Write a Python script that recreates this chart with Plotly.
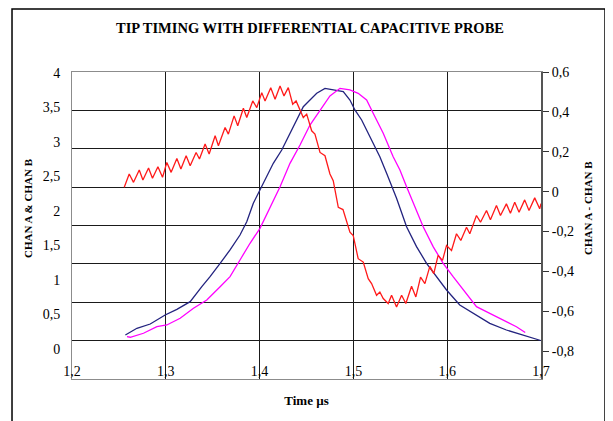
import plotly.graph_objects as go

# ---- data ----
time_a = [1.2569, 1.2692, 1.2834, 1.2993, 1.3118, 1.3260, 1.3384, 1.3472, 1.3579, 1.3685,
          1.3791, 1.3863, 1.3933, 1.4040, 1.4146, 1.4236, 1.4324, 1.4396, 1.4466, 1.4537,
          1.4609, 1.4697, 1.4785, 1.4892, 1.4963, 1.5016, 1.5088, 1.5176, 1.5282, 1.5354,
          1.5460, 1.5567, 1.5673, 1.5780, 1.5886, 1.5993, 1.6134, 1.6276, 1.6454, 1.6631,
          1.6808, 1.6997]
chan_a = [0.203, 0.300, 0.362, 0.493, 0.575, 0.686, 0.903, 1.048, 1.242, 1.435,
          1.652, 1.845, 2.112, 2.401, 2.691, 2.884, 3.126, 3.319, 3.512, 3.609,
          3.706, 3.778, 3.754, 3.729, 3.609, 3.464, 3.319, 3.077, 2.787, 2.546,
          2.184, 1.772, 1.483, 1.242, 1.048, 0.855, 0.638, 0.517, 0.372, 0.275,
          0.203, 0.123]

time_b = [1.2586, 1.2621, 1.2762, 1.2905, 1.3011, 1.3153, 1.3295, 1.3437, 1.3579, 1.3685,
          1.3791, 1.3898, 1.4004, 1.4111, 1.4218, 1.4324, 1.4431, 1.4537, 1.4644, 1.4750,
          1.4857, 1.4963, 1.5051, 1.5141, 1.5211, 1.5318, 1.5424, 1.5496, 1.5567, 1.5637,
          1.5744, 1.5850, 1.5957, 1.6063, 1.6170, 1.6312, 1.6454, 1.6595, 1.6738, 1.6832]
chan_b = [0.178, 0.170, 0.228, 0.323, 0.348, 0.445, 0.590, 0.710, 0.903, 1.048,
          1.290, 1.532, 1.749, 2.062, 2.352, 2.691, 2.957, 3.246, 3.464, 3.667,
          3.778, 3.754, 3.706, 3.609, 3.416, 3.126, 2.787, 2.594, 2.352, 2.112,
          1.772, 1.483, 1.242, 1.048, 0.855, 0.613, 0.517, 0.420, 0.323, 0.239]

time_d = [1.2557, 1.2610, 1.2656, 1.2717, 1.2756, 1.2816, 1.2858, 1.2916, 1.2965, 1.3011,
          1.3057, 1.3118, 1.3161, 1.3217, 1.3260, 1.3323, 1.3359, 1.3419, 1.3462, 1.3526,
          1.3561, 1.3632, 1.3667, 1.3728, 1.3767, 1.3827, 1.3863, 1.3927, 1.3970, 1.4023,
          1.4058, 1.4119, 1.4165, 1.4218, 1.4260, 1.4306, 1.4353, 1.4389, 1.4466, 1.4502,
          1.4555, 1.4590, 1.4644, 1.4697, 1.4750, 1.4785, 1.4839, 1.4889, 1.4963, 1.4998,
          1.5051, 1.5105, 1.5158, 1.5194, 1.5247, 1.5282, 1.5318, 1.5371, 1.5407, 1.5460,
          1.5514, 1.5559, 1.5620, 1.5666, 1.5716, 1.5762, 1.5815, 1.5857, 1.5903, 1.5950,
          1.5993, 1.6046, 1.6099, 1.6145, 1.6206, 1.6241, 1.6312, 1.6355, 1.6419, 1.6461,
          1.6525, 1.6568, 1.6631, 1.6674, 1.6720, 1.6766, 1.6826, 1.6872, 1.6933, 1.6986,
          1.7000]
chan_diff = [0.0215, 0.0885, 0.0465, 0.1085, 0.0585, 0.1185, 0.0665, 0.125, 0.0715, 0.1465,
             0.0965, 0.1665, 0.1135, 0.18, 0.13, 0.1965, 0.1635, 0.2385, 0.1885, 0.28,
             0.23, 0.3215, 0.2885, 0.38, 0.33, 0.4185, 0.3715, 0.455, 0.4215, 0.4965,
             0.455, 0.5215, 0.4635, 0.53, 0.48, 0.5215, 0.4385, 0.455, 0.3715, 0.3885,
             0.305, 0.2885, 0.1965, 0.18, 0.0885, 0.055, -0.0785, -0.09, -0.2035, -0.22,
             -0.3365, -0.3535, -0.4365, -0.4615, -0.52, -0.5035, -0.5365, -0.5615, -0.52, -0.5785,
             -0.52, -0.5615, -0.475, -0.5285, -0.4285, -0.4615, -0.375, -0.4115, -0.32, -0.345,
             -0.27, -0.295, -0.2115, -0.245, -0.1785, -0.2115, -0.12, -0.1535, -0.095, -0.1415,
             -0.07, -0.12, -0.0615, -0.1085, -0.0535, -0.1035, -0.0415, -0.095, -0.0315, -0.0865,
             -0.06]

x_ticks = [1.2, 1.3, 1.4, 1.5, 1.6, 1.7]
x_ticktext = ["1,2", "1,3", "1,4", "1,5", "1,6", "1,7"]
left_ticks = [0, 0.5, 1, 1.5, 2, 2.5, 3, 3.5, 4]
left_ticktext = ["0", "0,5", "1", "1,5", "2", "2,5", "3", "3,5", "4"]
# horizontal gridlines of the original drawing (evenly spaced, 8 bands)
grid_lines = [3.458, 2.902, 2.346, 1.790, 1.234, 0.677, 0.121]
right_ticks = [-0.8, -0.6, -0.4, -0.2, 0, 0.2, 0.4, 0.6]
right_ticktext = ["-0,8", "-0,6", "-0,4", "-0,2", "0", "0,2", "0,4", "0,6"]

FONT = "Liberation Serif, Times New Roman, serif"
GRID = "#1a1a1a"
TICK = 14

fig = go.Figure()
fig.add_trace(go.Scatter(x=time_a, y=chan_a, mode="lines", name="CHAN A",
                         line=dict(color="#23237f", width=1.3)))
fig.add_trace(go.Scatter(x=time_b, y=chan_b, mode="lines", name="CHAN B",
                         line=dict(color="#ff00ff", width=1.3)))
fig.add_trace(go.Scatter(x=time_d, y=chan_diff, mode="lines", name="CHAN A - CHAN B",
                         line=dict(color="#ff1a1a", width=1.3), yaxis="y2"))

fig.update_layout(
    width=605, height=413,
    margin=dict(l=64, r=72, t=64, b=42),
    paper_bgcolor="white", plot_bgcolor="white",
    showlegend=False,
    separators=",.",
    font=dict(family=FONT, size=TICK, color="black"),
    title=dict(text="TIP TIMING WITH DIFFERENTIAL CAPACITIVE PROBE",
               x=0.4992, y=0.9516, xref="container", yref="container",
               xanchor="center", yanchor="middle",
               font=dict(family=FONT, size=14.5, color="black", weight="bold")),
    xaxis=dict(range=[1.2, 1.7], tickvals=x_ticks, ticktext=x_ticktext,
               showgrid=True, gridcolor=GRID, gridwidth=1,
               showline=True, linecolor="#8c8c8c", linewidth=1, mirror=True,
               ticks="", ticklabelstandoff=-21, zeroline=False,
               tickfont=dict(size=TICK),
               title=dict(text="Time µs", standoff=18,
                          font=dict(family=FONT, size=13, weight="bold"))),
    yaxis=dict(range=[-0.435, 4.0145],
               tickvals=left_ticks, ticktext=left_ticktext,
               showgrid=False, zeroline=False,
               showline=True, linecolor="#8c8c8c", linewidth=1,
               ticks="outside", ticklen=8, tickcolor="rgba(0,0,0,0)",
               tickfont=dict(size=TICK),
               minor=dict(tickvals=grid_lines, showgrid=True, gridcolor=GRID,
                          gridwidth=1, ticks="")),
    yaxis2=dict(overlaying="y", side="right", range=[-0.94, 0.6],
                tickvals=right_ticks, ticktext=right_ticktext,
                showgrid=False, zeroline=False,
                showline=True, linecolor="#555555", linewidth=2,
                ticks="outside", ticklen=6, tickcolor="#333333",
                tickfont=dict(size=TICK)),
    annotations=[
        dict(text="CHAN A & CHAN B", xref="paper", yref="paper", x=-0.0938, y=0.557,
             textangle=-90, showarrow=False, xanchor="center", yanchor="middle",
             font=dict(family=FONT, size=11, weight="bold")),
        dict(text="CHAN A - CHAN B", xref="paper", yref="paper", x=1.1002, y=0.557,
             textangle=-90, showarrow=False, xanchor="center", yanchor="middle",
             font=dict(family=FONT, size=11, weight="bold")),
    ],
    shapes=[dict(type="rect", xref="paper", yref="paper",
                 x0=-0.1279, x1=1.1365, y0=-0.16, y1=1.205,
                 line=dict(color="black", width=1.5), layer="below")],
)

fig.write_html("out.html")
